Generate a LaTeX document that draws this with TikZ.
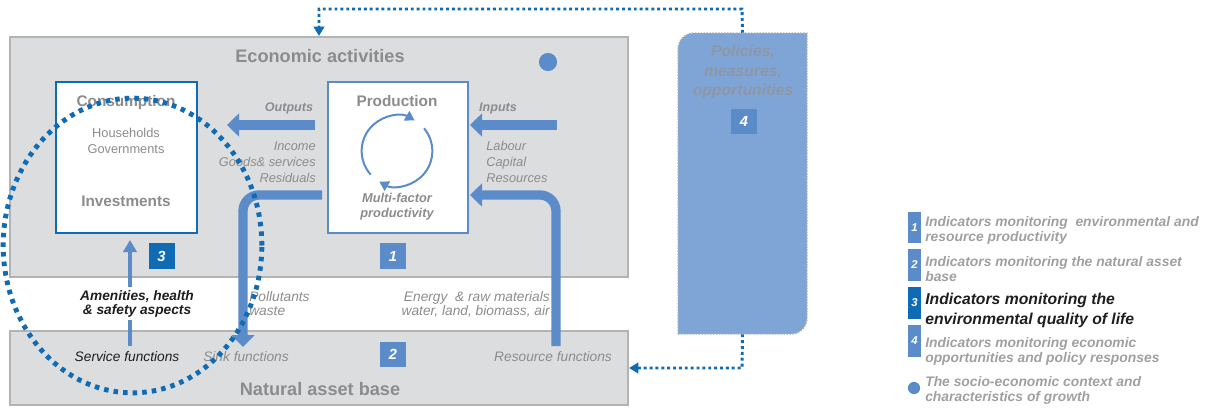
\documentclass[tikz,border=0pt]{standalone}
\usepackage{fontspec}
\setmainfont{Liberation Sans}
\usetikzlibrary{arrows.meta,fit,calc}
\definecolor{gfill}{HTML}{DCDDDF}
\definecolor{gline}{HTML}{B2B3B5}
\definecolor{gtext}{HTML}{8C8C8C}
\definecolor{lblue}{HTML}{5B8CC9}
\definecolor{dblue}{HTML}{0F6BB4}
\definecolor{pfill}{HTML}{7FA4D6}
\definecolor{ptext}{HTML}{8E97A6}
\definecolor{ltext}{HTML}{A0A0A0}
\definecolor{dtext}{HTML}{1E1E1E}
\newcommand{\myfs}[2]{\fontsize{#1}{#2}\selectfont}
\begin{document}
\begin{tikzpicture}[x=0.75pt,y=-0.75pt,
  graybox/.style={draw=gline,fill=gfill,line width=1.6pt,inner sep=0pt},
  whitebox/.style={fill=white,line width=1.8pt,inner sep=0pt},
  title/.style={text=gtext,font=\myfs{13.6}{16}\bfseries},
  boxhead/.style={text=gtext,font=\myfs{11.5}{14}\bfseries},
  plain/.style={text=gtext,font=\myfs{9.6}{12}},
  lab/.style={text=gtext,font=\myfs{9.6}{12}\itshape,inner sep=0pt},
  labb/.style={text=gtext,font=\myfs{9.4}{12}\bfseries\itshape,inner sep=0pt},
  func/.style={text=gtext,font=\myfs{10.3}{10.6}\itshape,inner sep=0pt},
  badge/.style={text=white,font=\myfs{11}{12}\bfseries\itshape,minimum width=19.5pt,minimum height=19pt,inner sep=0pt},
  lbadge/.style={text=white,font=\myfs{8.5}{10}\bfseries\itshape,minimum width=9.75pt,minimum height=23.5pt,inner sep=0pt},
  legtext/.style={text=ltext,font=\myfs{10.4}{11.3}\bfseries\itshape,align=left,anchor=west,inner sep=0pt},
  thickarr/.style={draw=lblue,line width=7pt,-{Triangle[length=9pt,width=17pt]}},
  thinarr/.style={draw=lblue,line width=2.6pt},
  cycarr/.style={draw=lblue,line width=1.5pt,-{Triangle[length=7pt,width=8pt]}},
  dotl/.style={draw=dblue,line width=2.2pt,dash pattern=on 2.2pt off 2.2pt},
  dotellipse/.style={draw=dblue,line width=3.7pt,dash pattern=on 3.4pt off 3.8pt}]
\useasboundingbox (0,0) rectangle (1212,408);

% gray areas
\node[graybox,fit={(10,37)(628,277)}] (econ) {};
\node[graybox,fit={(10,331)(628,405)}] (nat) {};
\node[title] (econt) at (320,56) {Economic activities};
\node[title] (natt) at (320,389) {Natural asset base};
\fill[lblue] (548,62) circle[radius=6.8pt];

% consumption and production boxes
\node[whitebox,draw=dblue,fit={(56,82)(197,233)}] (cons) {};
\node[whitebox,draw=lblue,line width=1.5pt,fit={(328,82)(468,233)}] (prod) {};
\node[boxhead] (consh) at (126,103) {Consumption};
\node[plain,align=center] (hh) at (126,140.5) {Households\\Governments};
\node[boxhead] (inv) at (126,201) {Investments};
\node[boxhead] (prodh) at (397,101) {Production};
\node[text=gtext,font=\myfs{9.6}{11.3}\bfseries\itshape,align=center,inner sep=0pt] (mfp) at (397,207) {Multi-factor\\productivity};

% productivity cycle
\coordinate (cyc) at (397,151);
\draw[cycarr] ($(cyc)+(222:26.5pt)$) arc[start angle=222,end angle=60,radius=26.5pt];
\draw[cycarr] ($(cyc)+(40:26.5pt)$) arc[start angle=40,end angle=-120,radius=26.5pt];

% outputs / inputs
\coordinate (o1) at (315,125); \coordinate (o2) at (227,125);
\coordinate (i1) at (557,125); \coordinate (i2) at (470,125);
\draw[thickarr] (o1) -- (o2);
\draw[thickarr] (i1) -- (i2);
\node[labb] (outl) at (289,108) {Outputs};
\node[labb] (inl) at (498,108) {Inputs};
\node[lab,align=right,anchor=east] (ogs) at (316,162) {Income\\Goods\& services\\Residuals};
\node[lab,align=left,anchor=west] (lcr) at (486,162) {Labour\\Capital\\Resources};

% pollutants and resources
\coordinate (p1) at (322,195); \coordinate (p2) at (243,347);
\coordinate (r1) at (556,346); \coordinate (r2) at (470,195);
\draw[thickarr,rounded corners=12pt] (p1) -| (p2);
\draw[thickarr,rounded corners=12pt] (r1) |- (r2);
\node[func,align=left,anchor=west] (pw) at (249,304) {Pollutants\\waste};
\node[func,align=right,anchor=east] (en) at (550,304) {Energy \ \& raw materials\\water, land, biomass, air};

% functions
\node[func,text=dtext] (serv) at (127,357) {Service functions};
\node[func] (sink) at (246,357) {Sink functions};
\node[func] (res) at (553,357) {Resource functions};

% amenities
\node[text=dtext,font=\myfs{10.3}{10.8}\bfseries\itshape,align=center,inner sep=1pt] (amen) at (137,304) {Amenities, health\\\& safety aspects};
\draw[thinarr] (130,346) -- (130,320);
\draw[thinarr,-{Triangle[length=9pt,width=10pt]}] (130,287) -- (130,240);

% badges
\node[badge,fill=dblue] (b3) at (161.5,256) {3};
\node[badge,fill=lblue] (b1) at (393,256) {1};
\node[badge,fill=lblue] (b2) at (393,354.5) {2};

% environmental quality ellipse
\draw[dotellipse] (132.5,245.5) ellipse[x radius=97pt,y radius=110.5pt];

% policies
\node[inner sep=0pt,fit={(678,33)(807,334)}] (pol) {};
\draw[fill=pfill,draw=gline,line width=1.1pt,dash pattern=on 1.1pt off 1.1pt]
  (678,334) -- (678,49) arc[start angle=180,end angle=90,radius=12pt] -- (807,33) -- (807,318) arc[start angle=0,end angle=-90,radius=12pt] -- cycle;
\node[text=ptext,font=\myfs{11.8}{14.6}\bfseries\itshape,align=center] (polt) at (743,72) {Policies,\\measures,\\opportunities};
\node[badge,fill=lblue] (b4) at (744,121.5) {4};
\coordinate (ptop) at (742,9);
\coordinate (pbot) at (742,368);
\draw[dotl,-{Triangle[length=7pt,width=8pt]}] (pol.north) -- (ptop) -| (econ.north);
\draw[dotl,-{Triangle[length=7pt,width=8pt]}] (pol.south) -- (pbot) -- (nat.east);

% legend
\node[lbadge,fill=lblue] (l1) at (914.5,227.5) {1};
\node[legtext] (lt1) at (925,230) {Indicators monitoring \ environmental and\\resource productivity};
\node[lbadge,fill=lblue] (l2) at (914.5,265) {2};
\node[legtext] (lt2) at (925,269) {Indicators monitoring the natural asset\\base};
\node[lbadge,fill=dblue] (l3) at (914.5,303) {3};
\node[legtext,text=dtext,font=\myfs{11.8}{15}\bfseries\itshape] (lt3) at (925,310) {Indicators monitoring the\\environmental quality of life};
\node[lbadge,fill=lblue] (l4) at (914.5,341) {4};
\node[legtext] (lt4) at (925,351) {Indicators monitoring economic\\opportunities and policy responses};
\fill[lblue] (914,388) circle[radius=4.6pt];
\node[legtext] (lt5) at (925,390) {The socio-economic context and\\characteristics of growth};
\end{tikzpicture}
\end{document}
